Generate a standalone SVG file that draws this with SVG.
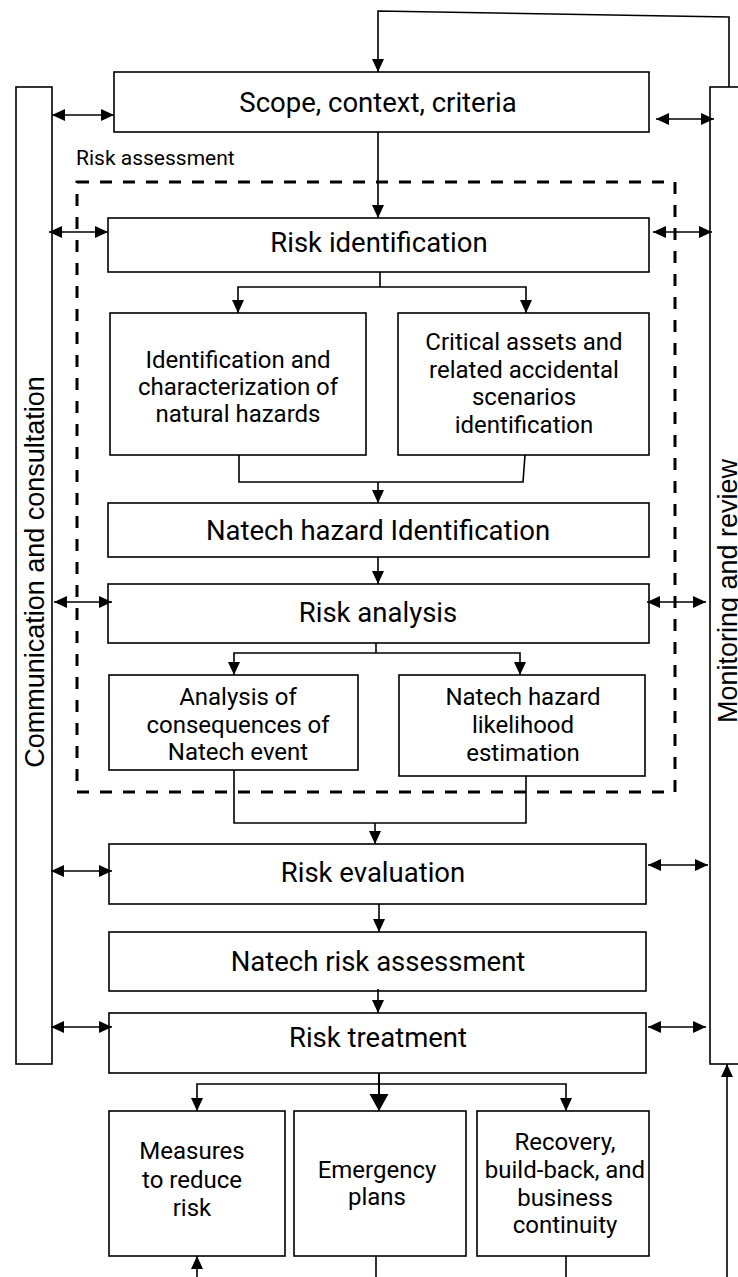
<svg xmlns="http://www.w3.org/2000/svg" width="738" height="1277" viewBox="0 0 738 1277">
<style>
.box{fill:#fff;stroke:#000;stroke-width:1.6}
.bar{fill:#fff;stroke:#000;stroke-width:1.6}
.t{font-family:Roboto,"Liberation Sans",sans-serif;font-weight:400;fill:#000;text-anchor:middle}
.big{font-size:27.5px}
.mid{font-size:24px}
.side{font-family:"Liberation Sans",Arial,sans-serif;font-size:27px;fill:#000;text-anchor:middle}
.ln{fill:none;stroke:#000;stroke-width:1.6}
.ea{marker-end:url(#ah)}
.da{marker-start:url(#ah);marker-end:url(#ah)}
</style>
<defs>
<marker id="ah" markerUnits="userSpaceOnUse" markerWidth="14" markerHeight="13" refX="13" refY="6.5" orient="auto-start-reverse" viewBox="0 0 14 13"><path d="M0,0.5 L13,6.5 L0,12.5 z" fill="#000"/></marker>
<marker id="ahb" markerUnits="userSpaceOnUse" markerWidth="18" markerHeight="20" refX="17" refY="10" orient="auto" viewBox="0 0 18 20"><path d="M0,0.5 L17,10 L0,19.5 z" fill="#000"/></marker>
</defs>

<g id="comm-bar">
<rect class="bar" x="16" y="87" width="36" height="977"/>
<text class="side" transform="translate(44,572) rotate(-90)">Communication and consultation</text>
</g>
<g id="monitor-bar">
<rect class="bar" x="710" y="87" width="40" height="977"/>
<text class="side" transform="translate(737,591) rotate(-90)">Monitoring and review</text>
</g>

<g id="risk-assessment-frame">
<text class="t" x="76" y="165" style="font-size:21px;text-anchor:start">Risk assessment</text>
<rect x="77" y="182" width="598" height="610" fill="none" stroke="#000" stroke-width="3" stroke-dasharray="12 11"/>
</g>

<g id="scope"><rect class="box" x="114" y="72" width="535" height="60"/><text class="t big" x="378" y="112">Scope, context, criteria</text></g>
<g id="risk-identification"><rect class="box" x="108" y="218" width="541" height="54"/><text class="t big" x="379" y="252">Risk identification</text></g>
<g id="natural-hazards"><rect class="box" x="110" y="313" width="256" height="142"/>
<text class="t mid" x="238" y="368">Identification and</text><text class="t mid" x="238" y="395">characterization of</text><text class="t mid" x="238" y="422">natural hazards</text></g>
<g id="critical-assets"><rect class="box" x="398" y="313" width="251" height="142"/>
<text class="t mid" x="524" y="350">Critical assets and</text><text class="t mid" x="524" y="378">related accidental</text><text class="t mid" x="524" y="405">scenarios</text><text class="t mid" x="524" y="433">identification</text></g>
<g id="natech-hazard-identification"><rect class="box" x="108" y="503" width="541" height="54"/><text class="t big" x="378" y="540">Natech hazard Identification</text></g>
<g id="risk-analysis"><rect class="box" x="108" y="584" width="541" height="59"/><text class="t big" x="378" y="622">Risk analysis</text></g>
<g id="consequences"><rect class="box" x="109" y="675" width="249" height="95"/>
<text class="t mid" x="238" y="705">Analysis of</text><text class="t mid" x="238" y="733">consequences of</text><text class="t mid" x="238" y="760">Natech event</text></g>
<g id="likelihood"><rect class="box" x="399" y="675" width="246" height="101"/>
<text class="t mid" x="523" y="705">Natech hazard</text><text class="t mid" x="523" y="733">likelihood</text><text class="t mid" x="523" y="761">estimation</text></g>
<g id="risk-evaluation"><rect class="box" x="109" y="844" width="537" height="60"/><text class="t big" x="373" y="882">Risk evaluation</text></g>
<g id="natech-risk-assessment"><rect class="box" x="109" y="932" width="537" height="59"/><text class="t big" x="378" y="971">Natech risk assessment</text></g>
<g id="risk-treatment"><rect class="box" x="109" y="1013" width="537" height="60"/><text class="t big" x="378" y="1047">Risk treatment</text></g>
<g id="measures"><rect class="box" x="109" y="1111" width="176" height="145"/>
<text class="t mid" x="192" y="1159">Measures</text><text class="t mid" x="192" y="1188">to reduce</text><text class="t mid" x="192" y="1216">risk</text></g>
<g id="emergency"><rect class="box" x="294" y="1111" width="172" height="145"/>
<text class="t mid" x="377" y="1178">Emergency</text><text class="t mid" x="377" y="1205">plans</text></g>
<g id="recovery"><rect class="box" x="477" y="1111" width="172" height="145"/>
<text class="t mid" x="565" y="1150">Recovery,</text><text class="t mid" x="565" y="1178">build-back, and</text><text class="t mid" x="565" y="1206">business</text><text class="t mid" x="565" y="1233">continuity</text></g>

<g id="connectors">
<path class="ln ea" d="M729,87 V17 L378,11 V72"/>
<path class="ln ea" d="M378,132 V218"/>
<path class="ln da" d="M52,115 H114"/>
<path class="ln da" d="M656,119 H714"/>
<path class="ln da" d="M49,232 H108"/>
<path class="ln da" d="M653,232 H712"/>
<path class="ln" d="M380,272 V287"/>
<path class="ln ea" d="M380,287 H238 V313"/>
<path class="ln ea" d="M380,287 H526 V313"/>
<path class="ln" d="M239,455 V482 H523 L525,455"/>
<path class="ln ea" d="M378,482 V503"/>
<path class="ln ea" d="M378,557 V584"/>
<path class="ln da" d="M54,602 H112"/>
<path class="ln da" d="M647,602 H706"/>
<path class="ln" d="M376,643 V653"/>
<path class="ln ea" d="M376,653 H234 V675"/>
<path class="ln ea" d="M376,653 H520 V675"/>
<path class="ln" d="M234,770 V823 H526 V776"/>
<path class="ln ea" d="M375,823 V844"/>
<path class="ln da" d="M51,871 H112"/>
<path class="ln da" d="M648,865 H708"/>
<path class="ln ea" d="M379,904 V932"/>
<path class="ln ea" d="M378,989 V1013"/>
<path class="ln da" d="M51,1027 H112"/>
<path class="ln da" d="M648,1027 H706"/>
<path class="ln" d="M379,1073 V1090" style="stroke-width:2"/>
<path class="ln" d="M379,1088 V1111" style="marker-end:url(#ahb);stroke-width:2"/>
<path class="ln ea" d="M379,1084 H197 V1111"/>
<path class="ln ea" d="M379,1084 H566 V1111"/>
<path class="ln ea" d="M197,1277 V1256"/>
<path class="ln" d="M376,1256 V1277"/>
<path class="ln" d="M566,1256 V1277"/>
<path class="ln ea" d="M727,1277 V1064"/>
</g>
</svg>
